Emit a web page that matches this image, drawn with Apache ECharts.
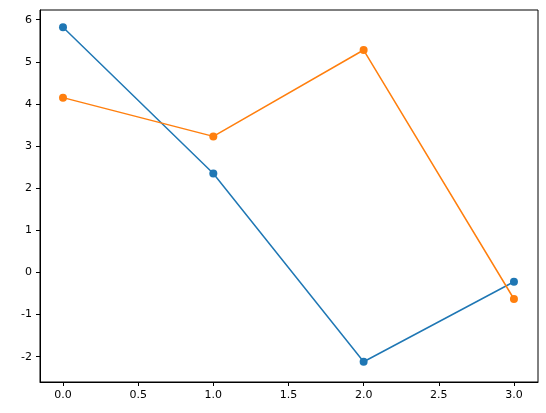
<!DOCTYPE html>
<html><head><meta charset="utf-8">
<script src="https://cdn.jsdelivr.net/npm/echarts@6/dist/echarts.min.js"></script>
<style>html,body{margin:0;padding:0;background:#fff}#c{width:546px;height:413px}</style>
</head><body><div id="c"></div>
<script>
const xs = [0, 1, 2, 3];
const blue = [5.82, 2.35, -2.12, -0.22];
const orange = [4.15, 3.23, 5.28, -0.63];
const xTicks = [0, 0.5, 1, 1.5, 2, 2.5, 3];
const yTicks = [-2, -1, 0, 1, 2, 3, 4, 5, 6];
const chart = echarts.init(document.getElementById('c'));
const line = {show:true,onZero:false,lineStyle:{color:'#000',width:1}};
const lab = {color:'#000',fontSize:11,fontFamily:'DejaVu Sans'};
chart.setOption({
  animation:false,
  grid:{left:40,right:8,top:10,bottom:31,show:true,borderColor:'#000',borderWidth:1},
  xAxis:{type:'value',min:-0.153,max:3.16,axisLine:line,splitLine:{show:false},
    axisTick:{show:true,inside:false,length:4,lineStyle:{color:'#000'},customValues:xTicks},
    axisLabel:Object.assign({customValues:xTicks,formatter:v=>v.toFixed(1)},lab)},
  yAxis:{type:'value',min:-2.6,max:6.23,axisLine:line,splitLine:{show:false},
    axisTick:{show:true,inside:false,length:4,lineStyle:{color:'#000'},customValues:yTicks},
    axisLabel:Object.assign({customValues:yTicks,formatter:v=>String(Math.round(v))},lab)},
  series:[
    {type:'line',data:xs.map((x,i)=>[x,blue[i]]),color:'#1f77b4',symbol:'circle',symbolSize:8,lineStyle:{width:1.5}},
    {type:'line',data:xs.map((x,i)=>[x,orange[i]]),color:'#ff7f0e',symbol:'circle',symbolSize:8,lineStyle:{width:1.5}}
  ]
});
</script></body></html>
